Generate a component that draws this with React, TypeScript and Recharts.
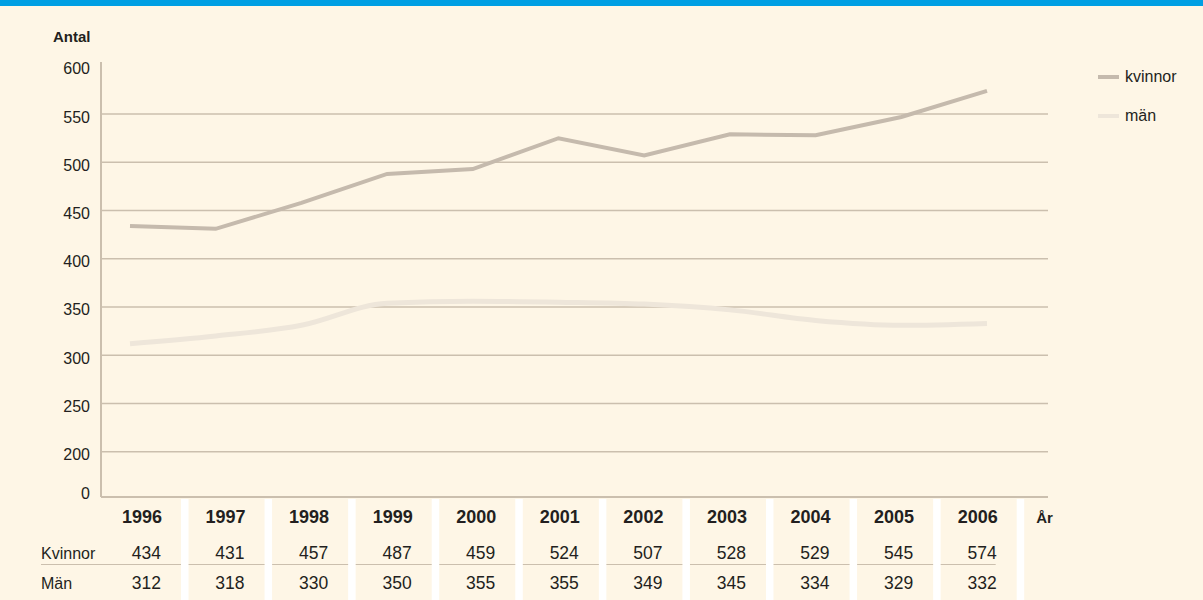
import React from 'react';
import { LineChart, Line, XAxis, YAxis, ReferenceLine, Legend } from 'recharts';

// ---- data ----
const years = ['1996', '1997', '1998', '1999', '2000', '2001', '2002', '2003', '2004', '2005', '2006'];
// values as drawn by the lines
const kvinnorLine = [434, 431, 458, 488, 493, 525, 507, 529, 528, 547, 574];
const manLine = [312, 320, 331, 354, 356, 355, 353, 347, 336, 331, 333];
// values printed in the table below the chart
const kvinnorTable = [434, 431, 457, 487, 459, 524, 507, 528, 529, 545, 574];
const manTable = [312, 318, 330, 350, 355, 355, 349, 345, 334, 329, 332];
const rowLabels = ['Kvinnor', 'Män'];
const seriesNames = ['kvinnor', 'män'];

// broken value axis: the "0" label sits at the floor of the axis
const AXIS_FLOOR = 153;
const AXIS_TOP = 604;
const yTickValues = [AXIS_FLOOR, 200, 250, 300, 350, 400, 450, 500, 550, 600];
const gridValues = [200, 250, 300, 350, 400, 450, 500, 550];

const data = years.map((year, i) => ({
  year,
  kvinnor: kvinnorLine[i],
  man: manLine[i],
}));

// ---- styles ----
const FONT = '"Liberation Sans", Arial, Helvetica, sans-serif';
const BG = '#FEF6E6';
const BLUE = '#009FE3';
const GRID = '#CBBFAE';
const TEXT = '#231F20';
const KVINNOR_COLOR = '#C5BAAD';
const MAN_COLOR = '#EEE6DA';

const YTick = (props: any) => {
  const { x, y, payload } = props;
  const isFloor = payload.value === AXIS_FLOOR;
  return (
    <text x={x} y={y + (isFloor ? 1.5 : 8.5)} textAnchor="end" fontSize={16} fill={TEXT}>
      {isFloor ? '0' : payload.value}
    </text>
  );
};

const YearTick = (props: any) => {
  const { x, y, payload, index } = props;
  const i = typeof index === 'number' ? index : payload.index;
  const last = years.length - 1;
  const colRight = x + 19;
  const colLeft = i === 0 ? x - 121 : x - 57;
  const lineEnd = i === last ? x - 2 : colRight;
  return (
    <g>
      <rect x={colRight} y={y + 2} width={7.5} height={120} fill="#FFFFFF" />
      <text x={x} y={y + 26} textAnchor="end" fontWeight="bold" fontSize={18} fill={TEXT}>
        {payload.value}
      </text>
      <text x={x - 1} y={y + 62} textAnchor="end" fontSize={17.5} fill={TEXT}>
        {kvinnorTable[i]}
      </text>
      <line x1={colLeft} x2={lineEnd} y1={y + 67.5} y2={y + 67.5} stroke={GRID} strokeWidth={1} />
      <text x={x - 1} y={y + 92} textAnchor="end" fontSize={17.5} fill={TEXT}>
        {manTable[i]}
      </text>
      {i === 0 && (
        <>
          <text x={colLeft} y={y + 62} textAnchor="start" fontSize={16} fill={TEXT}>
            {rowLabels[0]}
          </text>
          <text x={colLeft} y={y + 92} textAnchor="start" fontSize={16} fill={TEXT}>
            {rowLabels[1]}
          </text>
        </>
      )}
      {i === last && (
        <text x={colRight + 19.5} y={y + 26} textAnchor="start" fontWeight="bold" fontSize={15} fill={TEXT}>
          År
        </text>
      )}
    </g>
  );
};

const AntalLabel = (props: any) => {
  const vb = props.viewBox || { x: 0, y: 62 };
  return (
    <text x={vb.x + 53} y={vb.y - 20} fontWeight="bold" fontSize={15} fill={TEXT}>
      Antal
    </text>
  );
};

const LegendContent = (props: any) => {
  const payload = props.payload || [];
  return (
    <div style={{ fontFamily: FONT }}>
      {payload.map((entry: any, i: number) => (
        <div
          key={i}
          style={{
            display: 'flex',
            alignItems: 'center',
            height: 20,
            lineHeight: '20px',
            marginBottom: 19,
            fontSize: 16,
            color: TEXT,
          }}
        >
          <span
            style={{ display: 'inline-block', width: 21, height: 4, background: entry.color, marginRight: 6 }}
          />
          <span>{entry.value}</span>
        </div>
      ))}
    </div>
  );
};

export default function App() {
  return (
    <div style={{ position: 'relative', width: 1203, height: 600, background: BG, fontFamily: FONT, overflow: 'hidden' }}>
      <style>{`body{margin:0;}`}</style>
      <div style={{ position: 'absolute', left: 0, top: 0, width: 1203, height: 6, background: BLUE, zIndex: 2 }} />
      <div style={{ position: 'absolute', left: 0, top: 0 }}>
        <LineChart width={1203} height={600} data={data} margin={{ top: 62, right: 155, bottom: 0, left: 0 }}>
          <XAxis
            xAxisId="years"
            dataKey="year"
            type="category"
            scale="point"
            padding={{ left: 61, right: 50.3 }}
            height={103}
            interval={0}
            tickSize={0}
            tickMargin={0}
            tickLine={false}
            axisLine={{ stroke: GRID, strokeWidth: 2 }}
            tick={<YearTick />}
          />
          <XAxis
            xAxisId="line"
            dataKey="year"
            type="category"
            scale="point"
            padding={{ left: 29, right: 61 }}
            height={0}
            hide
          />
          <YAxis
            type="number"
            domain={[AXIS_FLOOR, AXIS_TOP]}
            ticks={yTickValues}
            interval={0}
            width={101}
            tickSize={0}
            tickMargin={11}
            tickLine={false}
            axisLine={{ stroke: GRID, strokeWidth: 2 }}
            tick={<YTick />}
            label={<AntalLabel />}
          />
          {gridValues.map((v) => (
            <ReferenceLine key={v} xAxisId="line" y={v} stroke={GRID} strokeWidth={1.5} />
          ))}
          <Legend
            layout="horizontal"
            verticalAlign="middle"
            align="center"
            wrapperStyle={{ left: 1098, top: 67, width: 105, height: 'auto' }}
            content={<LegendContent />}
          />
          <Line
            xAxisId="line"
            type="linear"
            dataKey="kvinnor"
            name={seriesNames[0]}
            stroke={KVINNOR_COLOR}
            strokeWidth={4}
            dot={false}
            activeDot={false}
            isAnimationActive={false}
          />
          <Line
            xAxisId="line"
            type="monotone"
            dataKey="man"
            name={seriesNames[1]}
            stroke={MAN_COLOR}
            strokeWidth={5}
            dot={false}
            activeDot={false}
            isAnimationActive={false}
          />
        </LineChart>
      </div>
    </div>
  );
}
